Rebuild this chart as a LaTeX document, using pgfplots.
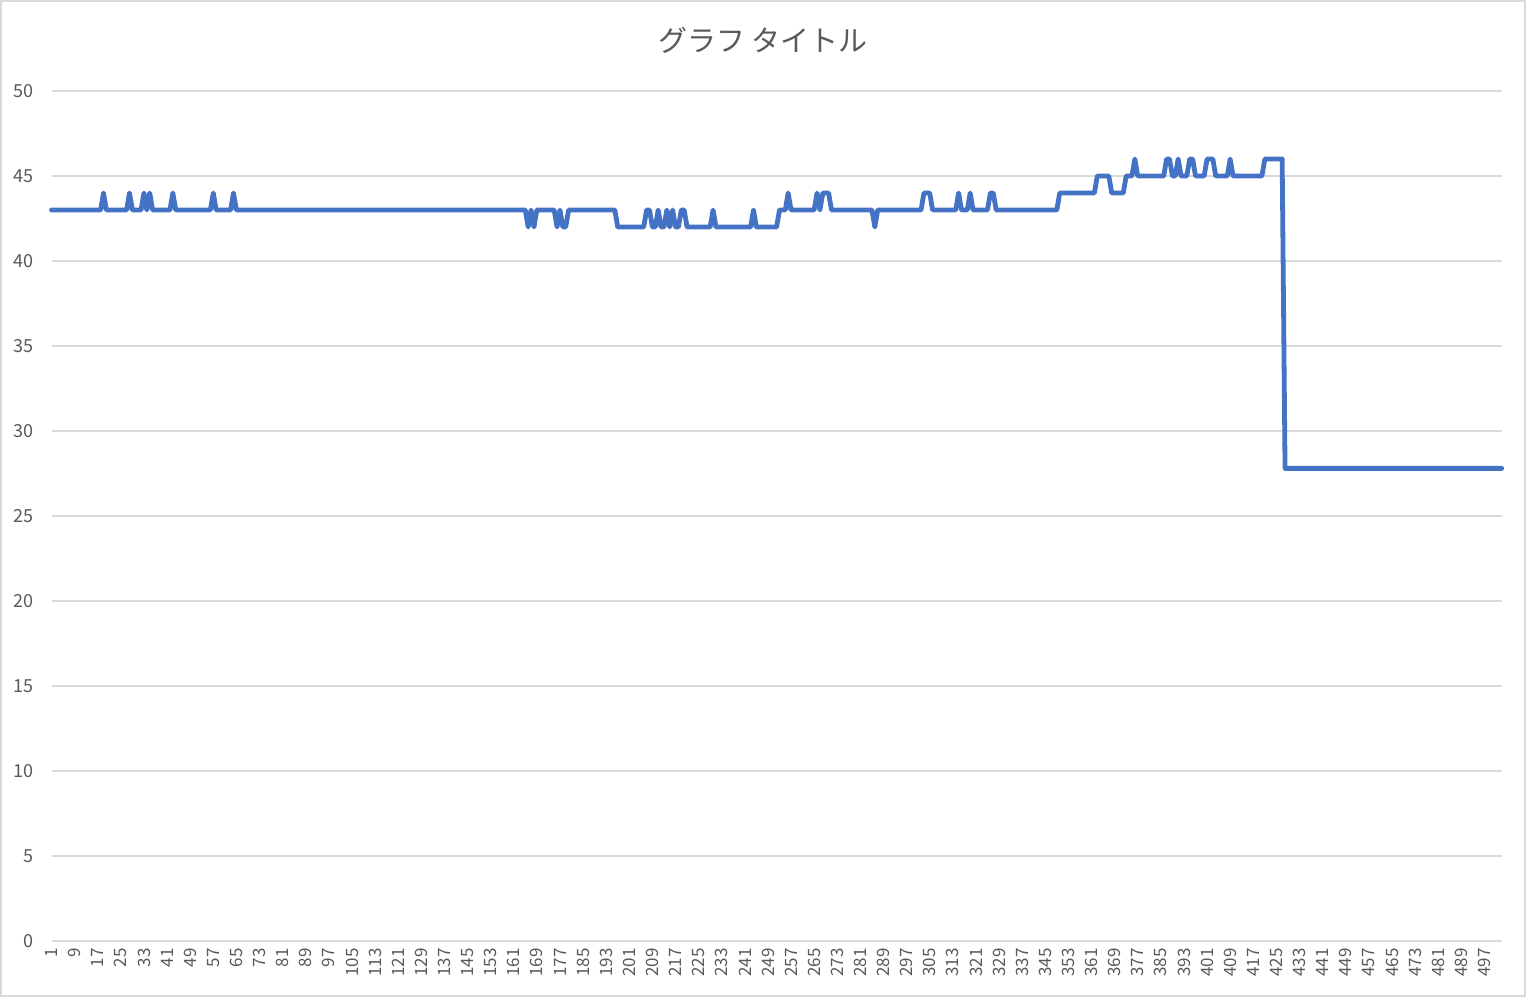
\documentclass[border=0pt]{standalone}
\usepackage{pgfplots}
\pgfplotsset{compat=1.18}
\usepackage{fontspec}
\setmainfont{Noto Sans CJK JP}
\definecolor{linecol}{HTML}{4472C4}
\definecolor{gridcol}{HTML}{D9D9D9}
\definecolor{textcol}{HTML}{595959}
\begin{document}
\begin{tikzpicture}
\useasboundingbox (0,0) rectangle (763bp,498.5bp);
\draw[gridcol, line width=0.75bp] (0.4bp,0.6bp) rectangle (762.4bp,498.1bp);
\begin{axis}[
  at={(25.75bp,28bp)}, anchor=south west,
  scale only axis, width=725.1bp, height=425bp,
  xmin=1, xmax=503, ymin=0, ymax=50,
  axis line style={draw=none},
  major tick length=0pt,
  ytick={0,5,...,50},
  xtick={1,9,...,497},
  ymajorgrids=true, xmajorgrids=false,
  grid style={gridcol, line width=0.75bp},
  /pgf/number format/assume math mode=true,
  yticklabel style={font=\fontsize{9bp}{10bp}\selectfont, text=textcol, inner sep=0pt, anchor=east},
  xticklabel style={font=\fontsize{8.5bp}{10bp}\selectfont, text=textcol, inner sep=0pt, rotate=90, anchor=east},
  yticklabel shift=9bp,
  xticklabel shift=3.5bp,
  clip=false,
]
\addplot[linecol, line width=2.4bp, line join=round, line cap=round] coordinates {
(1,43)(2,43)(3,43)(4,43)(5,43)(6,43)(7,43)(8,43)(9,43)(10,43)
(11,43)(12,43)(13,43)(14,43)(15,43)(16,43)(17,43)(18,43)(19,44)(20,43)
(21,43)(22,43)(23,43)(24,43)(25,43)(26,43)(27,43)(28,44)(29,43)(30,43)
(31,43)(32,43)(33,44)(34,43)(35,44)(36,43)(37,43)(38,43)(39,43)(40,43)
(41,43)(42,43)(43,44)(44,43)(45,43)(46,43)(47,43)(48,43)(49,43)(50,43)
(51,43)(52,43)(53,43)(54,43)(55,43)(56,43)(57,44)(58,43)(59,43)(60,43)
(61,43)(62,43)(63,43)(64,44)(65,43)(66,43)(67,43)(68,43)(69,43)(70,43)
(71,43)(72,43)(73,43)(74,43)(75,43)(76,43)(77,43)(78,43)(79,43)(80,43)
(81,43)(82,43)(83,43)(84,43)(85,43)(86,43)(87,43)(88,43)(89,43)(90,43)
(91,43)(92,43)(93,43)(94,43)(95,43)(96,43)(97,43)(98,43)(99,43)(100,43)
(101,43)(102,43)(103,43)(104,43)(105,43)(106,43)(107,43)(108,43)(109,43)(110,43)
(111,43)(112,43)(113,43)(114,43)(115,43)(116,43)(117,43)(118,43)(119,43)(120,43)
(121,43)(122,43)(123,43)(124,43)(125,43)(126,43)(127,43)(128,43)(129,43)(130,43)
(131,43)(132,43)(133,43)(134,43)(135,43)(136,43)(137,43)(138,43)(139,43)(140,43)
(141,43)(142,43)(143,43)(144,43)(145,43)(146,43)(147,43)(148,43)(149,43)(150,43)
(151,43)(152,43)(153,43)(154,43)(155,43)(156,43)(157,43)(158,43)(159,43)(160,43)
(161,43)(162,43)(163,43)(164,43)(165,43)(166,42)(167,43)(168,42)(169,43)(170,43)
(171,43)(172,43)(173,43)(174,43)(175,43)(176,42)(177,43)(178,42)(179,42)(180,43)
(181,43)(182,43)(183,43)(184,43)(185,43)(186,43)(187,43)(188,43)(189,43)(190,43)
(191,43)(192,43)(193,43)(194,43)(195,43)(196,43)(197,42)(198,42)(199,42)(200,42)
(201,42)(202,42)(203,42)(204,42)(205,42)(206,42)(207,43)(208,43)(209,42)(210,42)
(211,43)(212,42)(213,42)(214,43)(215,42)(216,43)(217,42)(218,42)(219,43)(220,43)
(221,42)(222,42)(223,42)(224,42)(225,42)(226,42)(227,42)(228,42)(229,42)(230,43)
(231,42)(232,42)(233,42)(234,42)(235,42)(236,42)(237,42)(238,42)(239,42)(240,42)
(241,42)(242,42)(243,42)(244,43)(245,42)(246,42)(247,42)(248,42)(249,42)(250,42)
(251,42)(252,42)(253,43)(254,43)(255,43)(256,44)(257,43)(258,43)(259,43)(260,43)
(261,43)(262,43)(263,43)(264,43)(265,43)(266,44)(267,43)(268,44)(269,44)(270,44)
(271,43)(272,43)(273,43)(274,43)(275,43)(276,43)(277,43)(278,43)(279,43)(280,43)
(281,43)(282,43)(283,43)(284,43)(285,43)(286,42)(287,43)(288,43)(289,43)(290,43)
(291,43)(292,43)(293,43)(294,43)(295,43)(296,43)(297,43)(298,43)(299,43)(300,43)
(301,43)(302,43)(303,44)(304,44)(305,44)(306,43)(307,43)(308,43)(309,43)(310,43)
(311,43)(312,43)(313,43)(314,43)(315,44)(316,43)(317,43)(318,43)(319,44)(320,43)
(321,43)(322,43)(323,43)(324,43)(325,43)(326,44)(327,44)(328,43)(329,43)(330,43)
(331,43)(332,43)(333,43)(334,43)(335,43)(336,43)(337,43)(338,43)(339,43)(340,43)
(341,43)(342,43)(343,43)(344,43)(345,43)(346,43)(347,43)(348,43)(349,43)(350,44)
(351,44)(352,44)(353,44)(354,44)(355,44)(356,44)(357,44)(358,44)(359,44)(360,44)
(361,44)(362,44)(363,45)(364,45)(365,45)(366,45)(367,45)(368,44)(369,44)(370,44)
(371,44)(372,44)(373,45)(374,45)(375,45)(376,46)(377,45)(378,45)(379,45)(380,45)
(381,45)(382,45)(383,45)(384,45)(385,45)(386,45)(387,46)(388,46)(389,45)(390,45)
(391,46)(392,45)(393,45)(394,45)(395,46)(396,46)(397,45)(398,45)(399,45)(400,45)
(401,46)(402,46)(403,46)(404,45)(405,45)(406,45)(407,45)(408,45)(409,46)(410,45)
(411,45)(412,45)(413,45)(414,45)(415,45)(416,45)(417,45)(418,45)(419,45)(420,45)
(421,46)(422,46)(423,46)(424,46)(425,46)(426,46)(427,46)(428,27.8)(429,27.8)(430,27.8)
(431,27.8)(432,27.8)(433,27.8)(434,27.8)(435,27.8)(436,27.8)(437,27.8)(438,27.8)(439,27.8)(440,27.8)
(441,27.8)(442,27.8)(443,27.8)(444,27.8)(445,27.8)(446,27.8)(447,27.8)(448,27.8)(449,27.8)(450,27.8)
(451,27.8)(452,27.8)(453,27.8)(454,27.8)(455,27.8)(456,27.8)(457,27.8)(458,27.8)(459,27.8)(460,27.8)
(461,27.8)(462,27.8)(463,27.8)(464,27.8)(465,27.8)(466,27.8)(467,27.8)(468,27.8)(469,27.8)(470,27.8)
(471,27.8)(472,27.8)(473,27.8)(474,27.8)(475,27.8)(476,27.8)(477,27.8)(478,27.8)(479,27.8)(480,27.8)
(481,27.8)(482,27.8)(483,27.8)(484,27.8)(485,27.8)(486,27.8)(487,27.8)(488,27.8)(489,27.8)(490,27.8)
(491,27.8)(492,27.8)(493,27.8)(494,27.8)(495,27.8)(496,27.8)(497,27.8)(498,27.8)(499,27.8)(500,27.8)
(501,27.8)(502,27.8)(503,27.8)
};
\end{axis}
\node[text=textcol, font=\fontsize{14.5bp}{16bp}\selectfont, inner sep=0pt] at (381.5bp,478.5bp) {グラフ タイトル};
\end{tikzpicture}
\end{document}
